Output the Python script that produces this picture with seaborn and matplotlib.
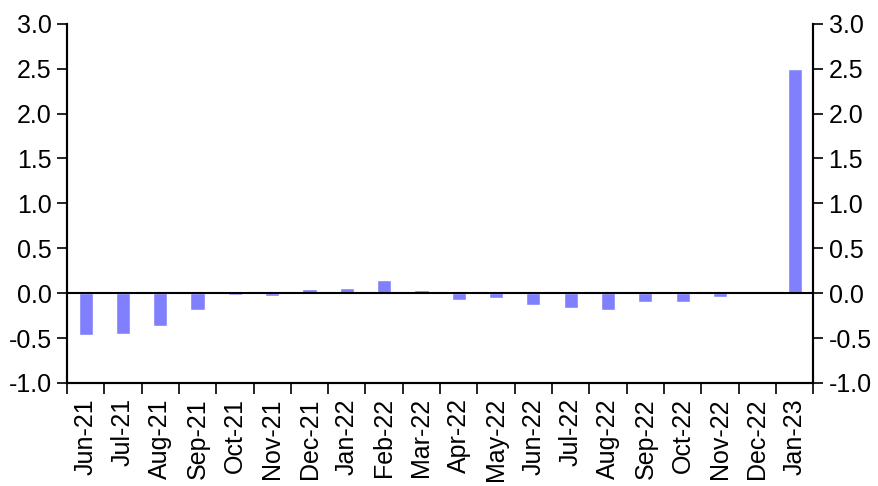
import pandas as pd
import numpy as np
import matplotlib
matplotlib.use("Agg")
import matplotlib.pyplot as plt
import seaborn as sns

months = ["Jun-21", "Jul-21", "Aug-21", "Sep-21", "Oct-21", "Nov-21", "Dec-21",
          "Jan-22", "Feb-22", "Mar-22", "Apr-22", "May-22", "Jun-22", "Jul-22",
          "Aug-22", "Sep-22", "Oct-22", "Nov-22", "Dec-22", "Jan-23"]
values = [-0.47, -0.455, -0.37, -0.19, -0.02, -0.03, 0.045,
          0.055, 0.145, 0.035, -0.075, -0.055, -0.13, -0.165,
          -0.19, -0.10, -0.10, -0.045, 0.0, 2.5]
y_ticks = [-1.0, -0.5, 0.0, 0.5, 1.0, 1.5, 2.0, 2.5, 3.0]

df = pd.DataFrame({"month": months, "value": values})

sns.set_style("ticks")
plt.rcParams["font.family"] = ["Liberation Sans", "DejaVu Sans"]

fig = plt.figure(figsize=(8.79, 4.86), dpi=100)
ax = fig.add_axes([0.0762, 0.212, 0.849, 0.739])

sns.barplot(data=df, x="month", y="value", color="#8080FF", saturation=1,
            width=0.38, ax=ax)

ax.set_ylim(-1, 3)
ax.set_xlim(-0.5, len(months) - 0.5)
ax.set_yticks(y_ticks)
ax.set_yticklabels([f"{t:.1f}" for t in y_ticks], fontsize=18)
ax.axhline(0, color="black", lw=1.5, zorder=3)

# labels at category centres, tick marks at category boundaries
ax.set_xticks(range(len(months)))
ax.set_xticklabels(months, rotation=90, fontsize=18)
ax.tick_params(axis="x", which="major", length=0, pad=11, labelcolor="black")
ax.set_xticks(np.arange(-0.5, len(months) + 0.5, 1), minor=True)
ax.tick_params(axis="x", which="minor", length=8, width=1.2, direction="out", color="black")
ax.tick_params(axis="y", length=7, width=1.2, direction="out", pad=4,
               color="black", labelcolor="black")

ax2 = ax.twinx()
ax2.set_ylim(-1, 3)
ax2.set_yticks(y_ticks)
ax2.set_yticklabels([f"{t:.1f}" for t in y_ticks], fontsize=18)
ax2.tick_params(axis="y", length=7, width=1.2, direction="out", pad=4,
                color="black", labelcolor="black")

for a in (ax, ax2):
    a.spines["top"].set_visible(False)
    for s in ("left", "right", "bottom"):
        a.spines[s].set_linewidth(1.5)
        a.spines[s].set_color("black")

ax.set_xlabel("")
ax.set_ylabel("")

fig.savefig("out.png", dpi=100)
